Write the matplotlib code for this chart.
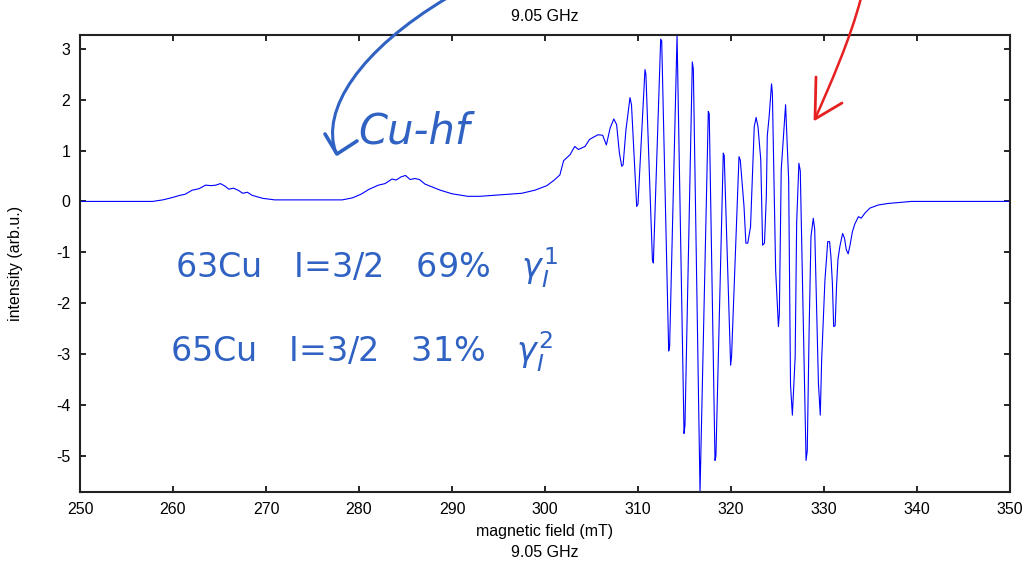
import matplotlib
matplotlib.use("Agg")
import matplotlib.pyplot as plt
from matplotlib.lines import Line2D
from matplotlib.path import Path
from matplotlib.patches import PathPatch

# ---- data ----
field_mT = [250.0, 257.8, 258.9, 259.8, 260.75, 261.3, 262.05, 262.8, 263.5, 264.1,
            264.6, 265.1, 265.6, 266.0, 266.5, 267.0, 267.5, 268.0, 268.5, 269.65,
            270.95, 278.2, 279.3, 280.2, 281.1, 282.1, 282.8, 283.55, 284.0, 284.5,
            285.0, 285.5, 286.0, 286.5, 287.1, 287.8, 288.75, 290.0, 291.7, 293.0,
            296.0, 297.5, 298.9, 300.2, 301.0, 301.6, 302.0, 302.7, 303.2, 303.6,
            304.3, 304.8, 305.7, 306.2, 306.6, 307.0, 307.4, 307.7, 308.0, 308.25,
            308.4, 308.7, 309.14, 309.3, 309.86, 310.0, 310.75, 310.85, 311.55, 311.65,
            312.44, 312.55, 313.3, 313.4, 314.2, 314.95, 315.05, 315.84, 315.95, 316.67,
            317.56, 317.66, 318.28, 318.38, 319.17, 319.27, 319.96, 320.06, 320.86, 321.0,
            321.4, 321.6, 321.8, 322.1, 322.5, 322.7, 322.9, 323.2, 323.4, 323.6,
            323.8, 323.9, 324.1, 324.36, 324.45, 324.8, 325.1, 325.2, 325.4, 325.87,
            326.2, 326.4, 326.6, 326.9, 327.06, 327.3, 327.45, 327.85, 328.07, 328.2,
            328.4, 328.6, 328.85, 329.0, 329.4, 329.6, 329.75, 330.1, 330.4, 330.6,
            330.75, 330.9, 331.04, 331.2, 331.35, 331.5, 331.7, 332.0, 332.2, 332.4,
            332.6, 332.8, 333.05, 333.3, 333.7, 334.0, 334.4, 334.95, 335.85, 336.9,
            339.4, 350.0]
intensity = [0.0, 0.0, 0.03, 0.07, 0.12, 0.14, 0.22, 0.25, 0.32, 0.31,
             0.32, 0.35, 0.30, 0.24, 0.26, 0.22, 0.16, 0.18, 0.12, 0.06,
             0.03, 0.03, 0.07, 0.14, 0.24, 0.32, 0.35, 0.44, 0.42, 0.48,
             0.51, 0.43, 0.45, 0.43, 0.34, 0.29, 0.22, 0.15, 0.10, 0.10,
             0.14, 0.16, 0.22, 0.31, 0.42, 0.52, 0.80, 0.92, 1.08, 1.02,
             1.08, 1.22, 1.31, 1.30, 1.11, 1.44, 1.62, 1.51, 0.95, 0.69,
             0.72, 1.40, 2.04, 1.90, -0.10, -0.05, 2.59, 2.50, -1.15, -1.21,
             3.19, 3.15, -2.94, -2.85, 3.27, -4.56, -4.40, 2.74, 2.60, -5.71,
             1.77, 1.72, -5.09, -5.00, 0.95, 0.90, -3.22, -3.05, 0.88, 0.81,
             -0.10, -0.82, -0.82, -0.50, 1.47, 1.65, 1.47, 0.82, -0.86, -0.82,
             0.10, 1.28, 1.67, 2.31, 2.12, -1.35, -2.46, -2.20, 0.62, 1.90,
             0.42, -3.61, -4.20, -3.05, -0.42, 0.75, 0.60, -3.05, -5.09, -4.90,
             -2.53, -0.69, -0.33, -0.55, -3.57, -4.20, -3.10, -1.55, -0.79, -0.79,
             -1.10, -1.60, -2.46, -2.44, -1.66, -1.14, -0.89, -0.63, -0.72, -0.95,
             -1.03, -0.86, -0.60, -0.45, -0.30, -0.33, -0.23, -0.13, -0.07, -0.04,
             0.0, 0.0]

x_ticks = [250, 260, 270, 280, 290, 300, 310, 320, 330, 340, 350]
y_ticks = [-5, -4, -3, -2, -1, 0, 1, 2, 3]
title_text = "9.05 GHz"
x_label = "magnetic field (mT)\n9.05 GHz"
y_label = "intensity (arb.u.)"
note_hf = "Cu-hf"
note_63 = r"63Cu   I=3/2   69%   $\gamma_I^1$"
note_65 = r"65Cu   I=3/2   31%   $\gamma_I^2$"

plt.rcParams['font.family'] = ['Liberation Sans', 'DejaVu Sans']
plt.rcParams['axes.unicode_minus'] = False

W, H = 1033, 562
fig = plt.figure(figsize=(W / 100, H / 100), dpi=100)
ax = fig.add_axes([80 / W, 1 - 492 / H, 930 / W, 457 / H])

ax.plot(field_mT, intensity, color='#0000ff', linewidth=0.8)
ax.set_xlim(250, 350)
ax.set_ylim(min(intensity), max(intensity))
ax.set_xticks(x_ticks)
ax.set_yticks(y_ticks)
ax.tick_params(direction='in', length=4, width=1.2, top=True, right=True,
               labelsize=11.5, pad=7)
for s in ax.spines.values():
    s.set_linewidth(1.5)
    s.set_color('#222222')
ax.set_title(title_text, fontsize=11.5, pad=10)
ax.set_xlabel(x_label, fontsize=11.5, linespacing=1.55, labelpad=5)
ax.set_ylabel(y_label, fontsize=11.5, labelpad=24)


def fx(px):
    return px / W


def fy(py):
    return 1 - py / H


blue = '#2f62c2'
red = '#e62020'

# blue curved arrow (handwritten annotation)
verts = [(fx(447), fy(-2)), (fx(360), fy(50)), (fx(320), fy(110)), (fx(336), fy(153))]
path = Path(verts, [Path.MOVETO, Path.CURVE4, Path.CURVE4, Path.CURVE4])
fig.patches.append(PathPatch(path, transform=fig.transFigure, fill=False,
                             edgecolor=blue, linewidth=2.2, capstyle='round'))
fig.lines.append(Line2D([fx(325), fx(337), fx(357)], [fy(134), fy(154), fy(141)],
                        transform=fig.transFigure, color=blue, linewidth=2.6,
                        solid_capstyle='round', solid_joinstyle='round'))

# red arrow
verts_r = [(fx(861), fy(-2)), (fx(850), fy(40)), (fx(830), fy(85)), (fx(815), fy(119))]
path_r = Path(verts_r, [Path.MOVETO, Path.CURVE4, Path.CURVE4, Path.CURVE4])
fig.patches.append(PathPatch(path_r, transform=fig.transFigure, fill=False,
                             edgecolor=red, linewidth=1.8, capstyle='round'))
fig.lines.append(Line2D([fx(816), fx(815), fx(842)], [fy(77), fy(119), fy(103)],
                        transform=fig.transFigure, color=red, linewidth=2.0,
                        solid_capstyle='round', solid_joinstyle='round'))

# handwritten notes as text
fig.text(fx(358), fy(132), note_hf, color=blue, fontsize=30, va='center', ha='left',
         family=['DejaVu Sans'], style='italic')
fig.text(fx(175), fy(268), note_63, color=blue, fontsize=24, va='center', ha='left',
         family=['DejaVu Sans'])
fig.text(fx(170), fy(352), note_65, color=blue, fontsize=24, va='center', ha='left',
         family=['DejaVu Sans'])

fig.savefig('out.png', dpi=100)
